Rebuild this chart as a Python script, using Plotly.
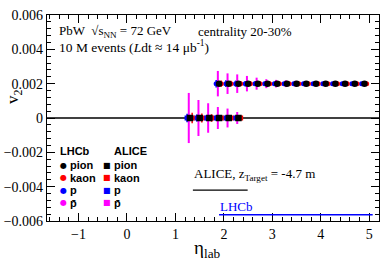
import plotly.graph_objects as go

# ---------------- data ----------------
eta_alice = [1.3, 1.5, 1.7, 1.9, 2.1, 2.3]
eta_lhcb = [1.9, 2.1, 2.3, 2.5, 2.7, 2.9, 3.1, 3.3, 3.5, 3.7, 3.9, 4.1, 4.3, 4.5, 4.7, 4.9]

v2_alice = {
    "pion": [0, 0, 0, 0, 0, 0],
    "kaon": [0, 0, 0, 0, 0, 0],
    "p": [0, 0, 0, 0, 0, 0],
    "pbar": [0, 0, 0, 0, 0, 0],
}
err_alice = {
    "pion": [0.00008, 0.00007, 0.00006, 0.00005, 0.00005, 0.00004],
    "kaon": [0.0003, 0.00026, 0.00022, 0.00018, 0.00015, 0.00012],
    "p": [0.00025, 0.0002, 0.00018, 0.00015, 0.00013, 0.0001],
    "pbar": [0.00146, 0.00105, 0.00086, 0.00064, 0.00055, 0.00035],
}
v2_lhcb = {
    "pion": [0.002] * 16,
    "kaon": [0.002] * 16,
    "p": [0.002] * 16,
    "pbar": [0.002] * 16,
}
err_lhcb = {
    "pion": [0.00005, 0.00005, 0.00004, 0.00004, 0.00004, 0.00003, 0.00003, 0.00003,
             0.00003, 0.00003, 0.00003, 0.00003, 0.00003, 0.00003, 0.00003, 0.00003],
    "kaon": [0.00018, 0.00017, 0.00015, 0.00014, 0.00012, 0.00011, 0.0001, 0.0001,
             0.00009, 0.00009, 0.00008, 0.00008, 0.00008, 0.00008, 0.00008, 0.00008],
    "p": [0.00022, 0.0002, 0.00018, 0.00016, 0.00014, 0.00012, 0.00011, 0.0001,
          0.0001, 0.00009, 0.00009, 0.00009, 0.00008, 0.00008, 0.00008, 0.00008],
    "pbar": [0.00074, 0.0006, 0.00054, 0.00045, 0.00035, 0.00026, 0.00022, 0.0002,
             0.00017, 0.00016, 0.00013, 0.00012, 0.00011, 0.0001, 0.0001, 0.0001],
}
species = ["pbar", "p", "kaon", "pion"]
labels = {"pion": "pion", "kaon": "kaon", "p": "p", "pbar": "p\u0304"}

# ---------------- style ----------------
colors = {"pion": "black", "kaon": "red", "p": "blue", "pbar": "magenta"}
offset = {"pion": 0.0, "kaon": 0.045, "p": -0.06, "pbar": -0.025}
serif = "Liberation Serif"
sans = "Liberation Sans"

fig = go.Figure()

for sp in species:
    for eta, v, e, sym in [(eta_alice, v2_alice[sp], err_alice[sp], "square"),
                           (eta_lhcb, v2_lhcb[sp], err_lhcb[sp], "circle")]:
        fig.add_trace(go.Scatter(
            x=[x + offset[sp] for x in eta], y=v, mode="markers",
            marker=dict(symbol=sym, size=6.5 if sp == "pion" else 5, color=colors[sp],
                        line=dict(width=0)),
            error_y=dict(type="data", array=e, visible=True, color=colors[sp],
                         thickness=2 if sp == "pbar" else 1.5, width=0),
            showlegend=False, hoverinfo="skip"))

axis_common = dict(showline=True, linecolor="black", linewidth=1.2, mirror="ticks",
                   ticks="inside", ticklen=8, tickwidth=1, tickcolor="black",
                   showgrid=False, zeroline=False, automargin=False,
                   tickfont=dict(family=serif, size=14, color="black"))
fig.update_xaxes(range=[-1.65, 5.2], dtick=1, tick0=0,
                 minor=dict(ticks="inside", ticklen=4, dtick=0.2, tickcolor="black"),
                 **axis_common)
fig.update_yaxes(range=[-0.006, 0.006], dtick=0.002, tick0=0,
                 minor=dict(ticks="inside", ticklen=4, dtick=0.0004, tickcolor="black"),
                 **axis_common)

# zero line
fig.add_shape(type="line", xref="paper", x0=0, x1=1, yref="y", y0=0, y1=0,
              line=dict(color="black", width=1.5), layer="below")
# acceptance lines
alice_line = dict(x0=1.36, x1=2.49, y=-0.0042)
lhcb_line = dict(x0=1.9, x1=5.07, y=-0.00563)
fig.add_shape(type="line", x0=alice_line["x0"], x1=alice_line["x1"],
              y0=alice_line["y"], y1=alice_line["y"], line=dict(color="black", width=1.2))
fig.add_shape(type="line", x0=lhcb_line["x0"], x1=lhcb_line["x1"],
              y0=lhcb_line["y"], y1=lhcb_line["y"], line=dict(color="blue", width=1.5))

def px2paper(px, py):
    return (px - 47) / 332, (221 - py) / 206

ann = []
def txt(px, py, text, size=13, family=serif, color="black", xanchor="left", **kw):
    x, y = px2paper(px, py)
    ann.append(dict(x=x, y=y, xref="paper", yref="paper", text=text, showarrow=False,
                    xanchor=xanchor, yanchor="middle",
                    font=dict(family=family, size=size, color=color), **kw))

txt(57, 32, "PbW  √s<sub>NN</sub> = 72 GeV", size=13)
txt(196, 32, "centrality 20-30%")
txt(57, 46, "10 M events (<i>L</i>dt ≈ 14 μb<sup>-1</sup>)", size=13.5)
txt(192, 174, "ALICE, z<sub>Target</sub> = -4.7 m")
txt(218, 206, "LHCb", color="blue")

# legend
txt(58, 151, "<b>LHCb</b>", size=11, family=sans)
txt(112, 151, "<b>ALICE</b>", size=11, family=sans)
rows = [("pion", 165), ("kaon", 177.5), ("p", 190), ("pbar", 202.5)]
for sp, py in rows:
    txt(63, py, "●", size=8, family="DejaVu Sans", color=colors[sp], xanchor="center")
    txt(68, py, "<b>" + labels[sp] + "</b>", size=11, family=sans)
    txt(107, py, "■", size=8, family="DejaVu Sans", color=colors[sp], xanchor="center")
    txt(112, py, "<b>" + labels[sp] + "</b>", size=11, family=sans)

# axis titles
txt(14, 97, "v<sub>2</sub>", size=17, xanchor="center", textangle=-90)
txt(207, 249, "η<sub>lab</sub>", size=19, xanchor="center")

fig.update_layout(width=390, height=264, margin=dict(l=47, r=11, t=15, b=43),
                  paper_bgcolor="white", plot_bgcolor="white", annotations=ann,
                  showlegend=False)

fig.write_html("out.html", config={"displayModeBar": False},
               post_script="document.body.style.margin='0';document.body.style.overflow='hidden';")
